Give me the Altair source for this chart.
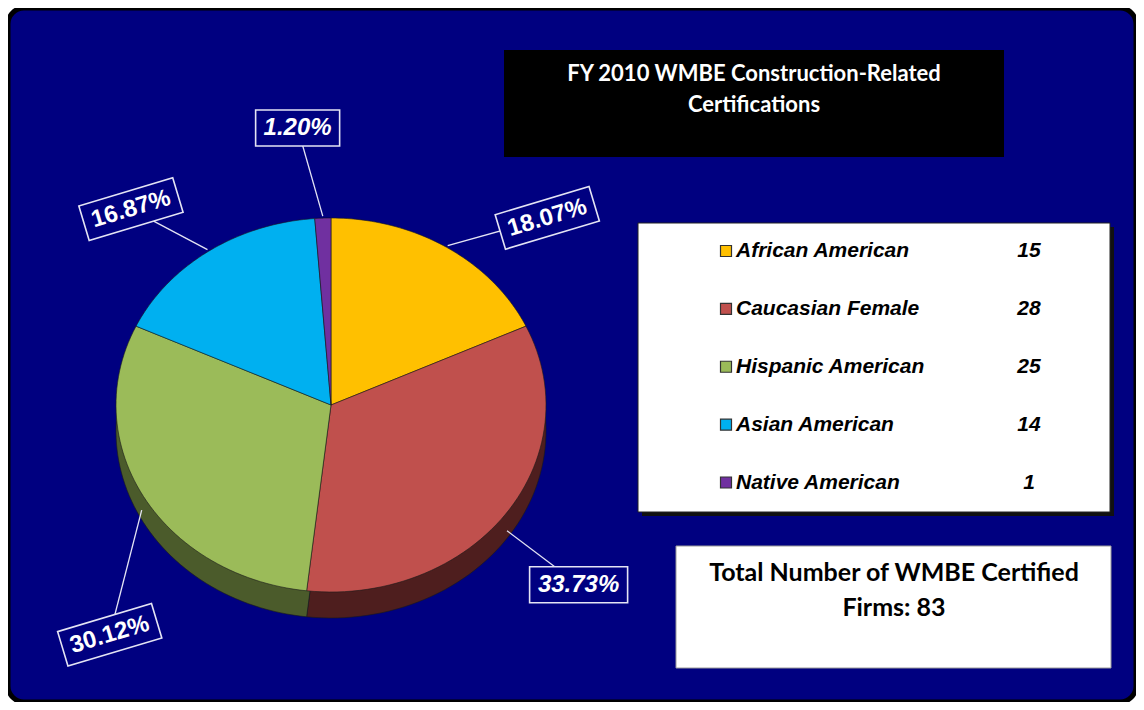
import altair as alt
import pandas as pd

# ---------------- data ----------------
categories = ["African American", "Caucasian Female", "Hispanic American",
              "Asian American", "Native American"]
counts = [15, 28, 25, 14, 1]
pct_labels = ["18.07%", "33.73%", "30.12%", "16.87%", "1.20%"]
total_firms = 83
title_lines = ["FY 2010 WMBE Construction-Related", "Certifications"]
total_lines = ["Total Number of WMBE Certified", "Firms: 83"]

# ---------------- styles / layout ----------------
top_colors = ["#FFC000", "#C0504D", "#9BBB59", "#00B0F0", "#7030A0"]
side_colors = ["#8A6A00", "#4E1E1E", "#4B5B2B", "#00587A", "#3A1A55"]
NAVY = "#000080"
W, H = 1128, 694
CX, CY = 323, 397          # pie centre (plot px)
A, B, DEPTH = 215, 187, 26  # ellipse half-axes of the tilted pie, wall depth
N_STEPS = 60                # smoothness of each slice outline
label_nudge = [16.6, 0.2, -16.8, -10.9, -4.7]   # degrees added to slice mid-angle
label_dist = [286, 306, 319, 280, 279]           # px from pie centre
label_rot = [343.3, 0, 343.3, 343.3, 0]          # text rotation

slices = pd.DataFrame({
    "category": categories,
    "count": counts,
    "label": pct_labels,
    "ord": list(range(len(categories))),
    "nudge": label_nudge,
    "dist": label_dist,
    "rot": label_rot,
    "step": [list(range(-1, N_STEPS + 2))] * len(categories),
})

one = pd.DataFrame({"k": [0]})


def cumul(ch):
    return (
        ch.transform_window(cum="sum(count)", sort=[alt.SortField("ord")], frame=[None, 0])
        .transform_joinaggregate(tot="sum(count)")
    )


def geom(ch):
    return (
        cumul(ch)
        .transform_calculate(mid="(datum.cum - datum.count/2)/datum.tot*360")
        .transform_calculate(la="(datum.mid + datum.nudge)*PI/180", ma="datum.mid*PI/180",
                             w="14*length(datum.label)+14")
        .transform_calculate(
            lx=f"{CX} + datum.dist*sin(datum.la)",
            ly=f"{CY} - datum.dist*cos(datum.la)",
            ex=f"{CX} + {A + 2}*sin(datum.ma)",
            ey=f"{CY} - {B + 2}*cos(datum.ma) + {DEPTH}*max(0, -cos(datum.ma))",
            sz="datum.w*datum.w",
            shp="'M-1,-' + (18/(datum.w/2)) + 'H1V' + (18/(datum.w/2)) + 'H-1Z'",
        )
    )


def wedge(colors, dy):
    return (
        cumul(alt.Chart(slices))
        .transform_flatten(["step"])
        .transform_calculate(
            t=f"clamp(datum.step, 0, {N_STEPS})/{N_STEPS}",
            inner=f"datum.step < 0 || datum.step > {N_STEPS}",
        )
        .transform_calculate(pa="2*PI*(datum.cum - datum.count + datum.count*datum.t)/datum.tot")
        .transform_calculate(
            px=f"datum.inner ? {CX} : {CX} + {A}*sin(datum.pa)",
            py=f"(datum.inner ? {CY} : {CY} - {B}*cos(datum.pa)) + {dy}",
        )
        .mark_line(stroke="#1a1a1a", strokeWidth=0.6, strokeJoin="round")
        .encode(
            x=alt.X("px:Q", scale=None),
            y=alt.Y("py:Q", scale=None),
            fill=alt.Fill("category:N", scale=alt.Scale(domain=categories, range=colors), legend=None),
            detail="category:N",
            order=alt.Order("step:Q"),
        )
    )


side = wedge(side_colors, DEPTH)
top = wedge(top_colors, 0)

leaders = geom(alt.Chart(slices)).mark_rule(color="#E4E4F4", strokeWidth=1.3).encode(
    x=alt.X("ex:Q", scale=None), y=alt.Y("ey:Q", scale=None),
    x2="lx:Q", y2="ly:Q",
)

boxes = geom(alt.Chart(slices)).mark_point(
    filled=True, fill=NAVY, stroke="#E4E4F4", strokeWidth=1.6, opacity=1, fillOpacity=1
).encode(
    x=alt.X("lx:Q", scale=None), y=alt.Y("ly:Q", scale=None),
    shape=alt.Shape("shp:N", scale=None),
    size=alt.Size("sz:Q", scale=None),
    angle=alt.Angle("rot:Q", scale=None),
)

lbl_upright = geom(alt.Chart(slices)).transform_filter("datum.rot != 0").mark_text(
    font="Liberation Sans", fontWeight="bold", fontSize=24, color="white",
    align="center", baseline="middle",
).encode(
    x=alt.X("lx:Q", scale=None), y=alt.Y("ly:Q", scale=None),
    angle=alt.Angle("rot:Q", scale=None), text="label:N",
)

lbl_italic = geom(alt.Chart(slices)).transform_filter("datum.rot == 0").mark_text(
    font="Liberation Sans", fontWeight="bold", fontStyle="italic", fontSize=24, color="white",
    align="center", baseline="middle",
).encode(
    x=alt.X("lx:Q", scale=None), y=alt.Y("ly:Q", scale=None), text="label:N",
)

# title box
title_box = alt.Chart(one).mark_rect(color="black").encode(
    x=alt.value(496), x2=alt.value(996), y=alt.value(42), y2=alt.value(149))
title_df = pd.DataFrame({"line": title_lines, "i": [0, 1]})
title_txt = alt.Chart(title_df).transform_calculate(ty="73 + datum.i*31").mark_text(
    font="Lato", fontWeight="bold", fontSize=22, color="white", align="center", baseline="alphabetic"
).encode(x=alt.value(746), y=alt.Y("ty:Q", scale=None), text="line:N")

# legend box
leg_shadow = alt.Chart(one).mark_rect(color="#111111").encode(
    x=alt.value(634), x2=alt.value(1106), y=alt.value(219), y2=alt.value(508))
leg_box = alt.Chart(one).mark_rect(color="white", stroke="#222222", strokeWidth=1).encode(
    x=alt.value(630), x2=alt.value(1102), y=alt.value(215), y2=alt.value(504))
leg_y = alt.Y("category:N", scale=alt.Scale(type="point", domain=categories, range=[243, 474.5], padding=0),
              axis=None)
leg_sq = alt.Chart(slices).mark_square(size=121, stroke="#333333", strokeWidth=1.2, opacity=1).encode(
    x=alt.value(718), y=leg_y,
    color=alt.Color("category:N", scale=alt.Scale(domain=categories, range=top_colors), legend=None),
)
leg_txt = alt.Chart(slices).mark_text(
    font="Liberation Sans", fontWeight="bold", fontStyle="italic", fontSize=21, color="black",
    align="left", baseline="middle",
).encode(x=alt.value(728), y=leg_y, text="category:N")
leg_num = alt.Chart(slices).mark_text(
    font="Liberation Sans", fontWeight="bold", fontStyle="italic", fontSize=21, color="black",
    align="center", baseline="middle",
).encode(x=alt.value(1021), y=leg_y, text="count:Q")

# total box
tot_box = alt.Chart(one).mark_rect(color="white", stroke="#9a9a9a", strokeWidth=1).encode(
    x=alt.value(668), x2=alt.value(1103), y=alt.value(538), y2=alt.value(660))
tot_df = pd.DataFrame({"line": total_lines, "i": [0, 1]})
tot_txt = alt.Chart(tot_df).transform_calculate(ty="573 + datum.i*35").mark_text(
    font="Lato", fontWeight="bold", fontSize=25, color="black", align="center", baseline="alphabetic"
).encode(x=alt.value(886), y=alt.Y("ty:Q", scale=None), text="line:N")

chart = alt.layer(
    side, top, leaders, boxes, lbl_upright, lbl_italic,
    title_box, title_txt,
    leg_shadow, leg_box, leg_sq, leg_txt, leg_num,
    tot_box, tot_txt,
).resolve_scale(
    x="independent", y="independent", color="independent", fill="independent"
).properties(
    width=W, height=H, padding=0, background="white"
).configure_view(
    fill=NAVY, stroke="black", strokeWidth=5, cornerRadius=16
)

chart.save("out.html", embed_options={"renderer": "svg", "actions": False})
